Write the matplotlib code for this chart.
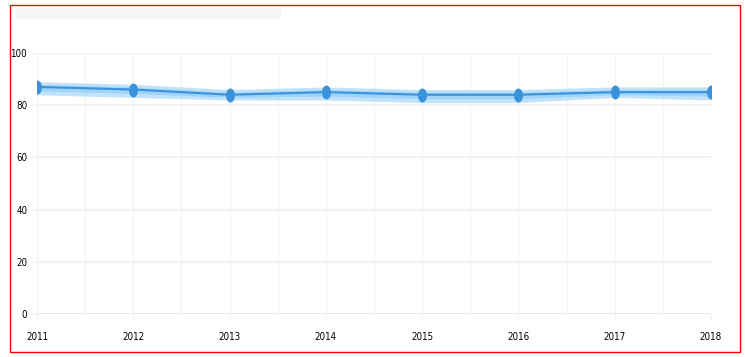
import matplotlib
matplotlib.use("Agg")
import matplotlib.pyplot as plt
from matplotlib.patches import Rectangle
from matplotlib.path import Path
from matplotlib.transforms import Affine2D
from matplotlib import font_manager

years = [2011, 2012, 2013, 2014, 2015, 2016, 2017, 2018]
mean_vals = [87, 86, 84, 85, 84, 84, 85, 85]
upper_vals = [89, 88, 86, 87, 86, 86, 87, 87]
lower_vals = [84, 83, 82, 82, 81, 81, 83, 82]
inner_upper = [88, 87, 85, 86, 85, 85, 86, 86]
inner_lower = [85.5, 84.5, 83, 83.5, 82.5, 82.5, 84, 83.5]
y_ticks = [0, 20, 40, 60, 80, 100]

# condensed font if we have one
names = {f.name for f in font_manager.fontManager.ttflist}
if "Liberation Sans Narrow" in names:
    tick_font = dict(family="Liberation Sans Narrow")
else:
    tick_font = dict(family="DejaVu Sans", stretch="condensed")

fig = plt.figure(figsize=(7.45, 3.57), dpi=100)
W, H = 745, 357

# red frame and grey title placeholder
fig.patches.append(Rectangle((10 / W, 1 - 352 / H), 730 / W, 347 / H,
                             transform=fig.transFigure, fill=False,
                             edgecolor="red", linewidth=1))
fig.patches.append(Rectangle((15 / W, 1 - 19 / H), 266 / W, 11 / H,
                             transform=fig.transFigure, facecolor="#f6f6f6",
                             edgecolor="none"))

ax = fig.add_axes([37 / W, 1 - 314 / H, (711 - 37) / W, (314 - 53) / H])
ax.set_xlim(2011, 2018)
ax.set_ylim(0, 100)

ax.fill_between(years, lower_vals, upper_vals, color="#b5defb", alpha=0.85,
                linewidth=0, zorder=2)
ax.fill_between(years, inner_lower, inner_upper, color="#92cdf7", alpha=0.7,
                linewidth=0, zorder=2)

ellipse = Path.unit_circle().transformed(Affine2D().scale(0.6, 1.0))
ax.plot(years, mean_vals, color="#3a92dc", linewidth=1.5, marker=ellipse,
        markersize=9, markerfacecolor="#3a92dc", markeredgecolor="#3a92dc",
        zorder=3)

# grid
for y in y_ticks[1:]:
    ax.axhline(y, color="#f1f1f1", linewidth=1.5, zorder=1)
ax.axhline(0, color="#e4e4ea", linewidth=2, zorder=1)
for i in range(len(years) * 2 - 1):
    ax.axvline(2011 + i * 0.5, color="#f4f4f4", linewidth=1, zorder=1)

for s in ax.spines.values():
    s.set_visible(False)

ax.set_yticks(y_ticks)
ax.set_xticks(years)
ax.tick_params(axis="y", length=4, color="#f1f1f1", pad=3, labelsize=7)
ax.tick_params(axis="x", length=4, color="#f1f1f1", pad=9, labelsize=7)
for lab in ax.get_xticklabels() + ax.get_yticklabels():
    lab.set_fontproperties(font_manager.FontProperties(size=7, **tick_font))

fig.savefig("out.png", dpi=100)
